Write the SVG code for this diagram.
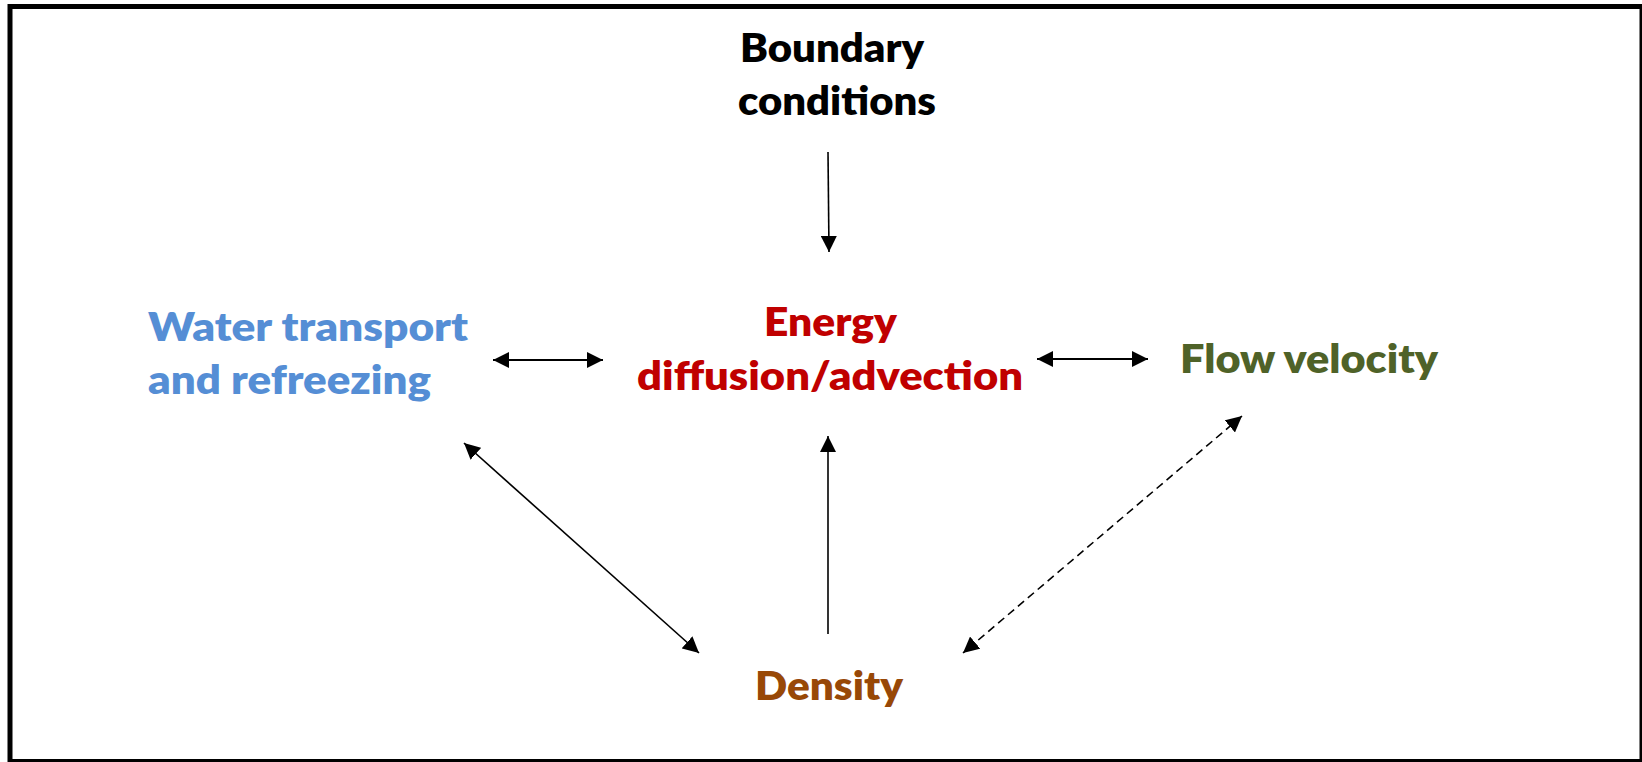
<svg xmlns="http://www.w3.org/2000/svg" width="1642" height="762" viewBox="0 0 1642 762">
<style>
text{font-family:Lato,"Open Sans","Liberation Sans",sans-serif;font-weight:800;font-size:40px}
.bc{fill:#000000}.wt{fill:#558ED5}.en{fill:#C00000}.fv{fill:#4F6228}.de{fill:#984807}
.c{fill:none;stroke:#000;stroke-width:1.6}
.h{stroke-width:2}
.d{stroke-dasharray:8 5}
</style>
<defs>
<marker id="ah" viewBox="0 0 16 16" refX="16" refY="8" markerWidth="16" markerHeight="16" markerUnits="userSpaceOnUse" orient="auto-start-reverse">
<path d="M0,0 L16,8 L0,16 Z" fill="#000"/>
</marker>
</defs>
<rect x="10" y="6.5" width="1632" height="755" fill="#fff" stroke="#000" stroke-width="5"/>
<g id="boundary">
<text class="bc" x="740" y="62" textLength="184" lengthAdjust="spacingAndGlyphs">Boundary</text>
<text class="bc" x="738" y="115" textLength="198" lengthAdjust="spacingAndGlyphs">conditions</text>
</g>
<g id="water">
<text class="wt" x="148" y="341" textLength="320" lengthAdjust="spacingAndGlyphs">Water transport</text>
<text class="wt" x="148" y="394" textLength="283" lengthAdjust="spacingAndGlyphs">and refreezing</text>
</g>
<g id="energy">
<text class="en" x="764" y="336" textLength="133" lengthAdjust="spacingAndGlyphs">Energy</text>
<text class="en" x="637" y="390" textLength="386" lengthAdjust="spacingAndGlyphs">diffusion/advection</text>
</g>
<g id="flow">
<text class="fv" x="1180" y="373" textLength="258" lengthAdjust="spacingAndGlyphs">Flow velocity</text>
</g>
<g id="density">
<text class="de" x="755" y="700" textLength="148" lengthAdjust="spacingAndGlyphs">Density</text>
</g>
<g id="connectors">
<line class="c" x1="828" y1="152" x2="829" y2="252" marker-end="url(#ah)"/>
<line class="c h" x1="493" y1="360" x2="603" y2="360" marker-start="url(#ah)" marker-end="url(#ah)"/>
<line class="c h" x1="1037" y1="359" x2="1148" y2="359" marker-start="url(#ah)" marker-end="url(#ah)"/>
<line class="c" x1="464" y1="443" x2="699" y2="653" marker-start="url(#ah)" marker-end="url(#ah)"/>
<line class="c" x1="828" y1="634" x2="828" y2="436" marker-end="url(#ah)"/>
<line class="c d" x1="1242" y1="416" x2="963" y2="653" marker-start="url(#ah)" marker-end="url(#ah)"/>
</g>
</svg>
